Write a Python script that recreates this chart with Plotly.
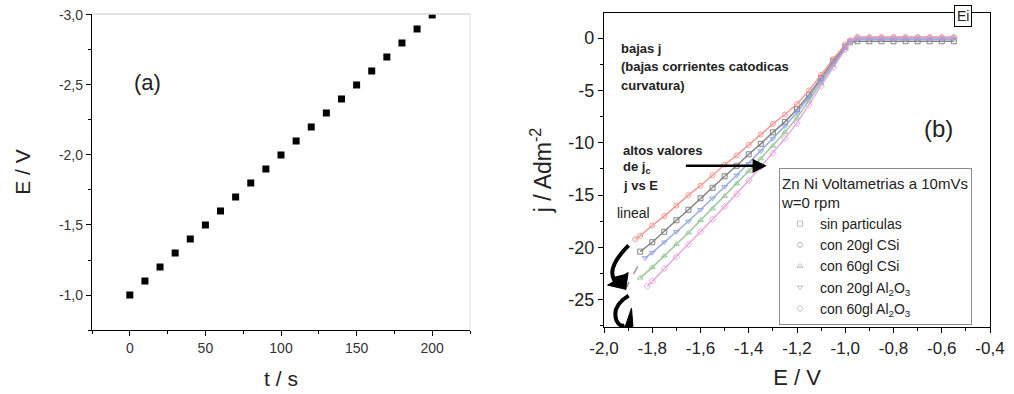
import plotly.graph_objects as go

# ---------------- data: panel (a) ----------------
t_s = [0, 10, 20, 30, 40, 50, 60, 70, 80, 90, 100, 110, 120, 130, 140, 150, 160, 170, 180, 190, 200]
E_a = [-1.0, -1.1, -1.2, -1.3, -1.4, -1.5, -1.6, -1.7, -1.8, -1.9, -2.0,
       -2.1, -2.2, -2.3, -2.4, -2.5, -2.6, -2.7, -2.8, -2.9, -3.0]
a_xtick_vals = [0, 50, 100, 150, 200]
a_ytick_vals = [-1.0, -1.5, -2.0, -2.5, -3.0]
a_ytick_text = ["-1,0", "-1,5", "-2,0", "-2,5", "-3,0"]

# ---------------- data: panel (b) ----------------
plateau_E = [-0.55, -0.6, -0.65, -0.7, -0.75, -0.8, -0.85, -0.9, -0.95]

E_sin = plateau_E + [-0.98, -1.0, -1.05, -1.1, -1.15, -1.2, -1.25, -1.3, -1.35, -1.4, -1.45,
                     -1.5, -1.55, -1.6, -1.65, -1.7, -1.75, -1.8, -1.85]
j_sin = [-0.3, -0.3, -0.3, -0.3, -0.3, -0.3, -0.3, -0.3, -0.3,
         -0.4, -0.8, -2.2, -3.8, -5.4, -6.8, -8.0, -9.0, -10.1, -11.1, -12.2,
         -13.2, -14.3, -15.3, -16.4, -17.4, -18.5, -19.5, -20.4]

E_20csi = plateau_E + [-0.98, -1.0, -1.05, -1.1, -1.15, -1.2, -1.25, -1.3, -1.35, -1.4, -1.45,
                       -1.5, -1.55, -1.6, -1.65, -1.7, -1.75, -1.8, -1.85, -1.87]
j_20csi = [0.1, 0.1, 0.1, 0.1, 0.1, 0.1, 0.1, 0.1, 0.1,
           -0.2, -0.6, -2.0, -3.5, -5.0, -6.3, -7.3, -8.2, -9.2, -10.2, -11.2,
           -12.1, -13.1, -14.1, -15.0, -16.0, -17.0, -17.9, -18.9, -19.2]

E_60csi = plateau_E + [-0.98, -1.0, -1.05, -1.1, -1.15, -1.2, -1.25, -1.3, -1.35, -1.4, -1.45,
                       -1.5, -1.55, -1.6, -1.65, -1.7, -1.75, -1.8, -1.85]
j_60csi = [0.0, 0.0, 0.0, 0.0, 0.0, 0.0, 0.0, 0.0, 0.0,
           -0.3, -1.0, -2.6, -4.3, -6.0, -7.6, -9.0, -10.3, -11.5, -12.7, -13.9,
           -15.1, -16.3, -17.4, -18.6, -19.7, -20.8, -21.9, -22.9]

E_20al = plateau_E + [-0.98, -1.0, -1.05, -1.1, -1.15, -1.2, -1.25, -1.3, -1.35, -1.4, -1.45,
                      -1.5, -1.55, -1.6, -1.65, -1.7, -1.75, -1.8, -1.83]
j_20al = [-0.1, -0.1, -0.1, -0.1, -0.1, -0.1, -0.1, -0.1, -0.1,
          -0.3, -0.9, -2.4, -4.0, -5.6, -7.1, -8.4, -9.6, -10.8, -12.0, -13.1,
          -14.2, -15.3, -16.4, -17.5, -18.5, -19.5, -20.5, -21.0]

E_60al = plateau_E + [-0.98, -1.0, -1.05, -1.1, -1.15, -1.2, -1.25, -1.3, -1.35, -1.4, -1.45,
                      -1.5, -1.55, -1.6, -1.65, -1.7, -1.75, -1.8, -1.82]
j_60al = [0.05, 0.05, 0.05, 0.05, 0.05, 0.05, 0.05, 0.05, 0.05,
          -0.3, -1.1, -2.8, -4.6, -6.4, -8.1, -9.6, -11.0, -12.3, -13.6, -14.9,
          -16.1, -17.3, -18.5, -19.7, -20.9, -22.0, -23.2, -23.7]

E_tail = [-1.86, -1.88, -1.9, -1.93]
j_tail = [-21.8, -22.6, -23.5, -25.0]

b_xtick_vals = [-2.0, -1.8, -1.6, -1.4, -1.2, -1.0, -0.8, -0.6, -0.4]
b_xtick_text = ["-2,0", "-1,8", "-1,6", "-1,4", "-1,2", "-1,0", "-0,8", "-0,6", "-0,4"]
b_ytick_vals = [0, -5, -10, -15, -20, -25]
b_ytick_text = ["0", "-5", "-10", "-15", "-20", "-25"]

series_names = ["sin particulas", "con 20gl CSi", "con 60gl CSi",
                "con 20gl Al<sub>2</sub>O<sub>3</sub>", "con 60gl Al<sub>2</sub>O<sub>3</sub>"]
series_E = [E_sin, E_20csi, E_60csi, E_20al, E_60al]
series_j = [j_sin, j_20csi, j_60csi, j_20al, j_60al]
series_colors = ["#6e6e6e", "#f08a80", "#86c08a", "#8a9be0", "#e59ad8"]
series_symbols = ["square-open", "circle-open", "triangle-up-open", "triangle-down-open", "diamond-open"]

FONT = "Liberation Sans, Arial, sans-serif"

fig = go.Figure()

# panel (a)
fig.add_trace(go.Scatter(x=t_s, y=E_a, mode="markers",
                         marker=dict(symbol="square", size=7, color="black"),
                         showlegend=False, xaxis="x", yaxis="y"))

# panel (b)
for E, j, c, s in zip(series_E, series_j, series_colors, series_symbols):
    fig.add_trace(go.Scatter(x=E, y=j, mode="lines+markers",
                             line=dict(color=c, width=1.5),
                             marker=dict(symbol=s, size=5, color=c, line=dict(width=1)),
                             opacity=0.85, showlegend=False, xaxis="x2", yaxis="y2"))
fig.add_trace(go.Scatter(x=E_tail, y=j_tail, mode="lines",
                         line=dict(color="#9a9a9a", width=1.5, dash="dash"),
                         showlegend=False, xaxis="x2", yaxis="y2"))
# legend entries (faint symbols like reference)
for n, c, s in zip(series_names, series_colors, series_symbols):
    fig.add_trace(go.Scatter(x=[None], y=[None], mode="markers", name=n,
                             marker=dict(symbol=s, size=5, color="#bdbdbd", line=dict(width=1)),
                             xaxis="x2", yaxis="y2"))

axis_common = dict(showgrid=False, zeroline=False, showline=True, linecolor="black",
                   linewidth=1.3, ticks="outside", ticklen=5, tickcolor="black",
                   automargin=False, tickmode="array")

fig.update_layout(
    width=1014, height=394,
    margin=dict(l=0, r=0, t=0, b=0),
    paper_bgcolor="white", plot_bgcolor="white",
    font=dict(family=FONT, color="#222"),
    xaxis=dict(domain=[92/1014, 470/1014], anchor="y", range=[-25, 225],
               tickvals=a_xtick_vals,
               minor=dict(ticks="outside", ticklen=3, dtick=25, tick0=0, tickcolor="black"),
               title=dict(text="t / s", font=dict(size=21, family=FONT), standoff=16),
               tickfont=dict(family=FONT, size=14, color="#333"), **axis_common),
    yaxis=dict(domain=[1-330/394, 1-14/394], anchor="x", range=[-0.75, -3.007],
               tickvals=a_ytick_vals, ticktext=a_ytick_text,
               minor=dict(ticks="outside", ticklen=3, dtick=0.25, tick0=-1.0, tickcolor="black"),
               title=dict(text="E / V", font=dict(size=21, family=FONT), standoff=22),
               tickfont=dict(family=FONT, size=14, color="#333"), **axis_common),
    xaxis2=dict(domain=[604/1014, 990/1014], anchor="y2", range=[-2.0, -0.4],
                tickvals=b_xtick_vals, ticktext=b_xtick_text,
                minor=dict(ticks="outside", ticklen=3, dtick=0.1, tick0=-2.0, tickcolor="black"),
                mirror=True,
                title=dict(text="E / V", font=dict(size=22, family=FONT), standoff=13),
                tickfont=dict(family=FONT, size=17, color="#222"), **axis_common),
    yaxis2=dict(domain=[1-327/394, 1-13/394], anchor="x2", range=[-27.6, 2.4],
                tickvals=b_ytick_vals, ticktext=b_ytick_text,
                minor=dict(ticks="outside", ticklen=3, dtick=2.5, tick0=0, tickcolor="black"),
                mirror=True,
                title=dict(text="j / Adm<sup>-2</sup>", font=dict(size=23, family=FONT), standoff=10),
                tickfont=dict(family=FONT, size=18, color="#222"), **axis_common),
    legend=dict(x=779/1014, y=1-168/394, xanchor="left", yanchor="top",
                bgcolor="white", bordercolor="#8c8c8c", borderwidth=1,
                font=dict(family=FONT, size=14, color="#222"),
                title=dict(text="Zn Ni Voltametrias a 10mVs<br>w=0 rpm",
                           font=dict(family=FONT, size=15, color="#222")),
                tracegroupgap=0, itemsizing="trace"),
)

# faint top and right frame lines of panel (a)
fig.add_shape(type="line", xref="paper", yref="paper", x0=92/1014, x1=470/1014,
              y0=1-14/394, y1=1-14/394, line=dict(color="#d8d8d8", width=1.5))
fig.add_shape(type="line", xref="paper", yref="paper", x0=470/1014, x1=470/1014,
              y0=1-330/394, y1=1-14/394, line=dict(color="#e6e6e6", width=1.5))

# hand-drawn hooks in panel (b)
fig.add_shape(type="path", xref="x2", yref="y2",
              path="M -1.898,-19.8 Q -1.985,-21.8 -1.960,-23.0 L -1.905,-22.7",
              line=dict(color="black", width=4))
fig.add_shape(type="path", xref="x2", yref="y2",
              path="M -1.985,-23.6 L -1.900,-22.4 L -1.910,-24.0 Z",
              fillcolor="black", line=dict(color="black", width=1))
fig.add_shape(type="path", xref="x2", yref="y2",
              path="M -1.898,-24.6 Q -1.970,-25.6 -1.948,-27.0 Q -1.935,-27.6 -1.915,-27.45",
              line=dict(color="black", width=4))
fig.add_shape(type="path", xref="x2", yref="y2",
              path="M -1.912,-27.55 L -1.880,-27.55 L -1.886,-25.8 Z",
              fillcolor="black", line=dict(color="black", width=1))

# annotations
def txt(x, y, text, size=13, bold=True, **kw):
    fig.add_annotation(x=x, y=y, xref="x2", yref="y2",
                       text=("<b>%s</b>" % text) if bold else text, showarrow=False,
                       xanchor=kw.pop("xanchor", "left"), yanchor="middle",
                       font=dict(family=FONT, size=size, color="#222"), **kw)

txt(-1.9375, -0.95, "bajas j")
txt(-1.9375, -2.7, "(bajas corrientes catodicas")
txt(-1.9375, -4.5, "curvatura)")
txt(-1.93, -10.7, "altos valores")
txt(-1.93, -12.35, "de j<sub>c</sub>")
txt(-1.93, -14.05, "j vs E")
txt(-1.955, -16.75, "lineal", size=14, bold=False)
txt(-0.6125, -8.6, "(b)", size=24, bold=False, xanchor="center")
fig.add_annotation(x=-0.512, y=2.15, xref="x2", yref="y2", text="Ei", showarrow=False,
                   font=dict(family=FONT, size=14, color="#222"), bordercolor="black",
                   borderwidth=1, borderpad=2, bgcolor="white")
fig.add_annotation(x=12, y=-2.515, xref="x", yref="y", text="(a)", showarrow=False,
                   font=dict(family=FONT, size=22, color="#222"))

# big arrow
fig.add_annotation(x=-1.325, y=-12.2, ax=-1.667, ay=-12.2, xref="x2", yref="y2",
                   axref="x2", ayref="y2", text="", showarrow=True,
                   arrowhead=2, arrowsize=1.1, arrowwidth=2.6, arrowcolor="black")

fig.write_html("out.html", config={"displayModeBar": False},
               post_script="document.body.style.margin='0';document.body.style.overflow='hidden';")
